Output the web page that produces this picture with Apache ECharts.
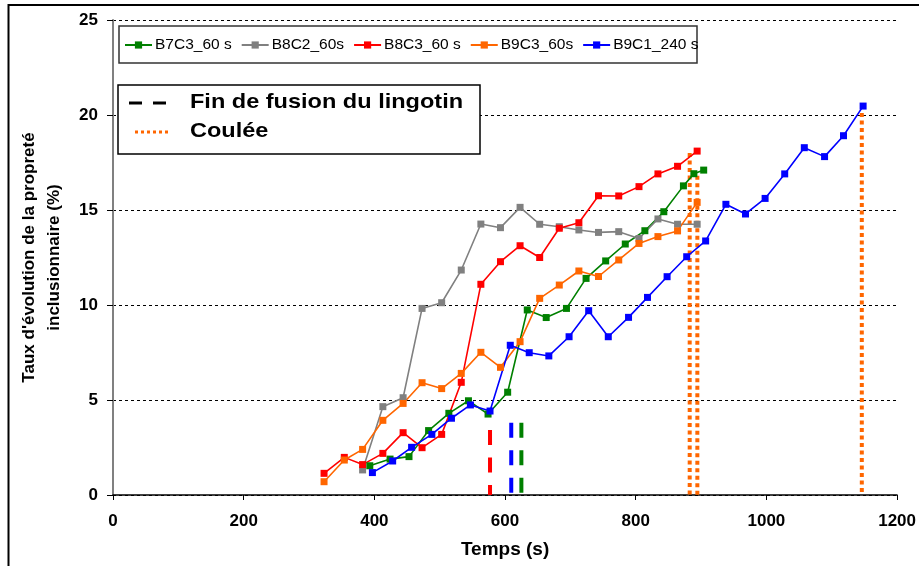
<!DOCTYPE html>
<html><head><meta charset="utf-8">
<script src="https://cdn.jsdelivr.net/npm/echarts@6/dist/echarts.min.js"></script>
<style>html,body{margin:0;padding:0;background:#fff}#c{width:919px;height:566px}</style>
</head><body><div id="c"></div>
<script>
// ---- data ----
const seriesNames = ['B7C3_60 s', 'B8C2_60s', 'B8C3_60 s', 'B9C3_60s', 'B9C1_240 s'];
const tB7C3 = [393, 424, 453, 483, 514, 544, 574, 604, 634, 663, 694, 724, 754, 784, 814, 843, 873, 889, 904];
const vB7C3 = [1.54, 1.89, 2.02, 3.39, 4.30, 4.96, 4.26, 5.41, 9.74, 9.34, 9.82, 11.40, 12.32, 13.21, 13.91, 14.91, 16.27, 16.91, 17.10];
const tB8C2 = [382, 413, 444, 473, 503, 533, 563, 593, 623, 653, 683, 713, 743, 774, 805, 834, 864, 894];
const vB8C2 = [1.32, 4.65, 5.12, 9.82, 10.12, 11.84, 14.26, 14.07, 15.14, 14.25, 14.12, 13.95, 13.82, 13.86, 13.50, 14.53, 14.25, 14.25];
const tB8C3 = [323, 354, 382, 413, 444, 473, 503, 533, 563, 593, 623, 653, 683, 713, 743, 774, 805, 834, 864, 894];
const vB8C3 = [1.14, 1.98, 1.60, 2.19, 3.28, 2.49, 3.19, 5.93, 11.09, 12.28, 13.12, 12.50, 14.04, 14.33, 15.75, 15.74, 16.23, 16.90, 17.30, 18.10];
const tB9C3 = [323, 354, 382, 413, 444, 473, 503, 533, 563, 593, 623, 653, 683, 713, 743, 774, 805, 834, 864, 894];
const vB9C3 = [0.70, 1.84, 2.40, 3.93, 4.82, 5.91, 5.60, 6.40, 7.51, 6.72, 8.07, 10.35, 11.05, 11.79, 11.50, 12.37, 13.24, 13.60, 13.90, 15.40];
const tB9C1 = [397, 428, 457, 488, 518, 547, 577, 608, 637, 667, 698, 728, 758, 789, 818, 848, 878, 907, 938, 968, 998, 1028, 1058, 1089, 1118, 1148];
const vB9C1 = [1.18, 1.79, 2.51, 3.19, 4.04, 4.74, 4.42, 7.88, 7.49, 7.32, 8.33, 9.70, 8.33, 9.35, 10.40, 11.49, 12.54, 13.37, 15.30, 14.79, 15.61, 16.90, 18.28, 17.81, 18.91, 20.47];
// end of ingot melting (B8C3, B9C1, B7C3)
const fusionEndTimes = [577, 609.5, 625];
const fusionEndTops = [3.42, 3.8, 3.8];
// casting
const castingTimes = [882.6, 894.3, 1146];
const castingTops = [18.0, 16.8, 20.1];
const legendLabels = ['Fin de fusion du lingotin', 'Coulée'];
const xAxisTitle = 'Temps (s)';
const yAxisTitle = "Taux d'évolution de la propreté\ninclusionnaire (%)";

// ---- styles ----
const FONT = "'Liberation Sans', Arial, sans-serif";
const colors = ['#008000', '#808080', '#FF0000', '#FF6600', '#0000FF'];
const fusionColors = ['#FF0000', '#0000FF', '#008000'];
const castColor = '#FF6600';

const zip = (t, v) => t.map((x, i) => [x, v[i]]);
const dataSets = [zip(tB7C3, vB7C3), zip(tB8C2, vB8C2), zip(tB8C3, vB8C3), zip(tB9C3, vB9C3), zip(tB9C1, vB9C1)];

const series = [];
fusionEndTimes.forEach((t, i) => {
  series.push({
    name: 'fusion' + i, type: 'line', symbol: 'none', silent: true, z: 1,
    data: [[t, fusionEndTops[i]], [t, 0]],
    lineStyle: { color: fusionColors[i], width: 4, type: [15, 12.5] }
  });
});
castingTimes.forEach((t, i) => {
  series.push({
    name: 'cast' + i, type: 'line', symbol: 'none', silent: true, z: 1,
    data: [[t, castingTops[i]], [t, 0]],
    lineStyle: { color: castColor, width: 4, type: [4, 3.5] }
  });
});
seriesNames.forEach((n, i) => {
  series.push({
    name: n, type: 'line', data: dataSets[i], z: 3,
    symbol: 'rect', symbolSize: 7,
    itemStyle: { color: colors[i] },
    lineStyle: { color: colors[i], width: 1.6 }
  });
});

const chart = echarts.init(document.getElementById('c'), null, { renderer: 'canvas' });
chart.setOption({
  animation: false,
  backgroundColor: '#fff',
  textStyle: { fontFamily: FONT },
  grid: { left: 113, right: 21.5, top: 20, bottom: 71, containLabel: false },
  legend: {
    data: seriesNames, left: 124, top: 36, padding: 0,
    itemWidth: 27, itemHeight: 9, itemGap: 9,
    textStyle: { fontFamily: FONT, fontSize: 15.5, color: '#000', lineHeight: 18, padding: [0, 0, 0, -2] }
  },
  xAxis: {
    type: 'value', min: 0, max: 1200, interval: 200,
    name: xAxisTitle, nameLocation: 'middle', nameGap: 45,
    nameTextStyle: { fontFamily: FONT, fontSize: 19, fontWeight: 'bold', color: '#000' },
    axisLine: { show: true, onZero: false, lineStyle: { color: '#000', width: 1.5 } },
    axisTick: { show: true, inside: false, length: 5, lineStyle: { color: '#000' } },
    axisLabel: { margin: 18, fontFamily: FONT, fontSize: 17, fontWeight: 'bold', color: '#000',
      formatter: v => String(v) },
    splitLine: { show: false }
  },
  yAxis: {
    type: 'value', min: 0, max: 25, interval: 5,
    name: yAxisTitle, nameLocation: 'middle', nameGap: 46, nameRotate: 90,
    nameTextStyle: { fontFamily: FONT, fontSize: 17, fontWeight: 'bold', color: '#000', lineHeight: 25, align: 'center' },
    axisLine: { show: true, lineStyle: { color: '#808080', width: 2 } },
    axisTick: { show: true, inside: false, length: 6, lineStyle: { color: '#000' } },
    axisLabel: { margin: 15, fontFamily: FONT, fontSize: 17, fontWeight: 'bold', color: '#000',
      formatter: v => String(v) },
    splitLine: { show: true, lineStyle: { color: '#000', width: 1, type: [3, 3] } }
  },
  graphic: [
    { type: 'rect', z: 0, silent: true, shape: { x: 8.5, y: 5, width: 1000, height: 1000 },
      style: { fill: 'none', stroke: '#000', lineWidth: 2 } },
    { type: 'rect', z: 2, silent: true, shape: { x: 119, y: 26, width: 578, height: 37 },
      style: { fill: '#fff', stroke: '#333', lineWidth: 1.5 } },
    { type: 'rect', z: 5, silent: true, shape: { x: 118, y: 85, width: 362, height: 69 },
      style: { fill: '#fff', stroke: '#000', lineWidth: 1.5 } },
    { type: 'line', z: 6, silent: true, shape: { x1: 129, y1: 103, x2: 142, y2: 103 },
      style: { stroke: '#000', lineWidth: 3 } },
    { type: 'line', z: 6, silent: true, shape: { x1: 153, y1: 103, x2: 166, y2: 103 },
      style: { stroke: '#000', lineWidth: 3 } },
    { type: 'line', z: 6, silent: true, shape: { x1: 135, y1: 132, x2: 171, y2: 132 },
      style: { stroke: castColor, lineWidth: 3, lineDash: [3, 3] } },
    { type: 'text', z: 6, silent: true, x: 190, y: 92, scaleX: 1.12,
      style: { text: legendLabels[0], font: "bold 21px 'Liberation Sans', Arial, sans-serif", fill: '#000' } },
    { type: 'text', z: 6, silent: true, x: 190, y: 121, scaleX: 1.12,
      style: { text: legendLabels[1], font: "bold 21px 'Liberation Sans', Arial, sans-serif", fill: '#000' } }
  ],
  series: series
});
</script>
</body></html>
